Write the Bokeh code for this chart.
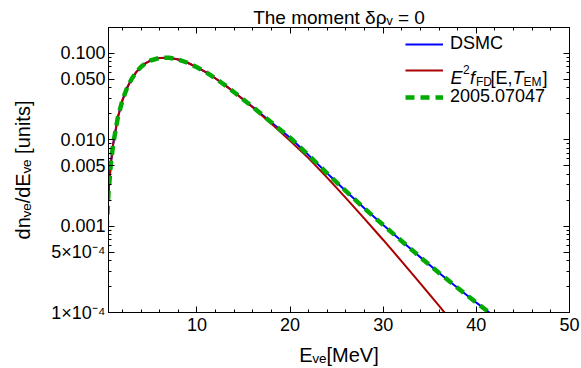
import math
from bokeh.plotting import figure
from bokeh.models import (Range1d, FixedTicker, LinearAxis, LogAxis, Legend, LegendItem,
                          Label, SingleIntervalTicker, CustomJSTickFormatter)
from bokeh.embed import file_html
from bokeh.resources import INLINE

# ---------------- data ----------------
energy_fd = [0.3, 0.5, 0.75, 1, 1.5, 2, 2.5, 3, 3.5, 4, 4.5, 5, 6, 7, 8, 9, 10, 11, 12, 13, 14,
             16, 18, 20, 22, 24, 26, 28, 30, 32, 34, 36, 38, 40]
fd_values = [9.1e-4, 2.43e-3, 5.25e-3, 8.9e-3, 0.0181, 0.0288, 0.0401, 0.0511, 0.0613, 0.0701,
             0.0774, 0.0829, 0.0889, 0.0893, 0.0852, 0.0781, 0.0692, 0.0603, 0.0513, 0.0430,
             0.0355, 0.0237, 0.0153, 9.77e-3, 6.1e-3, 3.63e-3, 2.11e-3, 1.216e-3, 6.92e-4,
             3.89e-4, 2.16e-4, 1.19e-4, 6.46e-5, 3.47e-5]

energy_dsmc = [0.3, 0.5, 0.75, 1, 1.5, 2, 2.5, 3, 3.5, 4, 4.5, 5, 6, 7, 8, 9, 10, 11, 12, 13, 14,
               16, 18, 20, 22, 24, 26, 28, 30, 32, 34, 36, 38, 40, 42, 44]
dsmc_values = [9.1e-4, 2.43e-3, 5.25e-3, 8.9e-3, 0.0181, 0.0288, 0.0401, 0.0511, 0.0613, 0.0701,
               0.0774, 0.0829, 0.0889, 0.0893, 0.0852, 0.0781, 0.0692, 0.0603, 0.0513, 0.0430,
               0.0355, 0.0240, 0.01585, 0.01059, 6.61e-3, 4.07e-3, 2.54e-3, 1.60e-3, 1.03e-3,
               6.7e-4, 4.35e-4, 2.87e-4, 1.92e-4, 1.30e-4, 8.9e-5, 6.0e-5]

energy_paper = [0.3, 0.5, 0.75, 1, 1.5, 2, 2.5, 3, 3.5, 4, 4.5, 5, 6, 7, 8, 9, 10, 11, 12, 13, 14,
                16, 18, 20, 22, 24, 26, 28, 30, 32, 34, 36, 38, 40, 42, 44]
paper_values = [9.1e-4, 2.43e-3, 5.25e-3, 8.9e-3, 0.0181, 0.0288, 0.0401, 0.0511, 0.0613, 0.0701,
                0.0774, 0.0829, 0.0889, 0.0893, 0.0852, 0.0781, 0.0692, 0.0603, 0.0513, 0.0430,
                0.0355, 0.0240, 0.01585, 0.01059, 6.61e-3, 4.07e-3, 2.54e-3, 1.60e-3, 1.03e-3,
                6.7e-4, 4.35e-4, 2.87e-4, 1.92e-4, 1.30e-4, 8.9e-5, 6.0e-5]

y_ticks = [1e-4, 5e-4, 1e-3, 5e-3, 1e-2, 5e-2, 1e-1]
y_tick_labels = ["1\u00d710\u207b\u2074", "5\u00d710\u207b\u2074", "0.001", "0.005",
                 "0.010", "0.050", "0.100"]
y_minor = [m * 10.0 ** k for k in (-4, -3, -2, -1) for m in (2, 3, 4, 6, 7, 8, 9)
           if m * 10.0 ** k <= 0.2] + [2e-1]

title_text = "The moment \u03b4\u03c1\u1d65 = 0"
x_label = "E\u1d65\u2091[MeV]"
y_label = "dn\u1d65\u2091/dE\u1d65\u2091 [units]"

FONT = "Liberation Sans"
FL, FB = 108, 312  # frame left / bottom in page pixels

p = figure(width=581, height=368, x_range=Range1d(0.5, 50), y_range=Range1d(1e-4, 0.2),
           y_axis_type="log", output_backend="svg", toolbar_location=None,
           title=title_text,
           min_border_left=108, min_border_right=12, min_border_top=27, min_border_bottom=56)
p.title.align = "center"
p.title.text_font = FONT
p.title.text_font_size = "19px"
p.title.text_font_style = "normal"
p.title.text_color = "black"
p.title.standoff = 0
p.xgrid.visible = False
p.ygrid.visible = False
p.outline_line_color = "black"
p.background_fill_color = "white"
p.border_fill_color = "white"

xaxis = p.below[0]
yaxis = p.left[0]
xt = SingleIntervalTicker(interval=10, num_minor_ticks=5)
yt = FixedTicker(ticks=y_ticks, minor_ticks=y_minor)
xaxis.ticker = xt
yaxis.ticker = yt
yaxis.major_label_overrides = {t: l for t, l in zip(y_ticks, y_tick_labels)}
xaxis.axis_label = x_label
yaxis.axis_label = y_label

blank = CustomJSTickFormatter(code="return ''")
top_axis = LinearAxis(ticker=xt, formatter=blank)
right_axis = LogAxis(ticker=yt, formatter=blank)
p.add_layout(top_axis, "above")
p.add_layout(right_axis, "right")

for ax in [xaxis, yaxis, top_axis, right_axis]:
    ax.major_tick_in = 6
    ax.major_tick_out = 0
    ax.minor_tick_in = 3
    ax.minor_tick_out = 0
    ax.axis_line_color = "black"
    ax.major_tick_line_color = "black"
    ax.minor_tick_line_color = "black"
    ax.major_label_text_font = FONT
    ax.major_label_text_font_size = "18px"
    ax.major_label_text_color = "black"
    ax.axis_label_text_font = FONT
    ax.axis_label_text_font_size = "20px"
    ax.axis_label_text_font_style = "normal"
    ax.axis_label_text_color = "black"
top_axis.major_label_standoff = 0
right_axis.major_label_standoff = 0
xaxis.major_label_standoff = 5
yaxis.major_label_standoff = 3
xaxis.axis_label_standoff = 10
yaxis.axis_label_standoff = 14

r_blue = p.line(energy_dsmc, dsmc_values, line_color="#0000FF", line_width=2)
r_red = p.line(energy_fd, fd_values, line_color="#AA0000", line_width=2)
r_green = p.line(energy_paper, paper_values, line_color="#00AA00", line_width=4.5,
                 line_dash="9 6")

legend = Legend(items=[LegendItem(label="DSMC", renderers=[r_blue]),
                       LegendItem(label=" ", renderers=[r_red]),
                       LegendItem(label="2005.07047", renderers=[r_green])],
                location=(297, 205), glyph_width=38, glyph_height=20, label_height=20,
                spacing=6, padding=0, margin=0, label_standoff=7,
                border_line_alpha=0, background_fill_alpha=0,
                label_text_font=FONT, label_text_font_size="18px", label_text_color="black")
p.add_layout(legend)


def put(text, sx, sy, size, italic=False):
    p.add_layout(Label(x=sx - FL, y=FB - sy, x_units="screen", y_units="screen", text=text,
                       text_font=FONT, text_font_size=f"{size}px",
                       text_font_style="italic" if italic else "normal",
                       text_baseline="alphabetic", text_align="left",
                       text_color="black"))


# legend entry 2: E^2 f_FD[E, T_EM]
put("E", 450, 77, 18, italic=True)
put("2", 462.5, 69, 12)
put("f", 469.5, 77, 18, italic=True)
put("FD", 475.5, 81, 12)
put("[E,", 490, 77, 18)
put("T", 512, 77, 18, italic=True)
put("EM", 523, 81, 12)
put("]", 542, 77, 18)

open("out.html", "w").write(file_html(p, INLINE))
